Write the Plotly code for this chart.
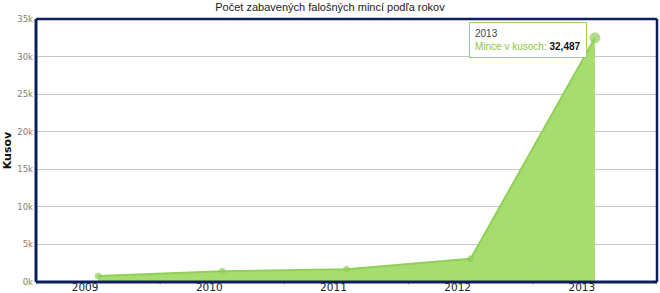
import plotly.graph_objects as go

years = ["2009", "2010", "2011", "2012", "2013"]
coins = [800, 1430, 1700, 3100, 32487]
series_name = "Mince v kusoch"
y_ticks = [0, 5000, 10000, 15000, 20000, 25000, 30000, 35000]
y_tick_text = ["0k", "5k", "10k", "15k", "20k", "25k", "30k", "35k"]

xpos = list(range(len(years)))
label_shift = 0.105
navy = "#0c1f5c"

fig = go.Figure()
fig.add_trace(go.Scatter(
    x=xpos, y=coins, mode="lines+markers", fill="tozeroy",
    fillcolor="#a7dc6f", line=dict(color="#90d058", width=2),
    marker=dict(color="#8fd055", size=[6, 6, 6, 6, 10]),
    name=series_name, showlegend=False, hoverinfo="skip",
))

fig.update_layout(
    width=660, height=293,
    margin=dict(l=36, r=3, t=19, b=11),
    paper_bgcolor="white", plot_bgcolor="white",
    title=dict(text="Počet zabavených falošných mincí podľa rokov",
               x=0.5, xanchor="center", y=1 - 7 / 293, yanchor="middle",
               font=dict(family="Liberation Sans, Arial", size=11, color="#222")),
    font=dict(family="Liberation Sans, Arial"),
    xaxis=dict(range=[-0.5, len(years) - 0.5], tickmode="array",
               tickvals=[i - label_shift for i in xpos], ticktext=years,
               ticks="", showgrid=False, zeroline=False, automargin=False,
               ticklabelstandoff=-3,
               tickfont=dict(size=10.5, color="#222", family="DejaVu Sans")),
    yaxis=dict(range=[0, 35000], tickmode="array", tickvals=y_ticks, ticktext=y_tick_text,
               showgrid=True, gridcolor="#c8c8c8", gridwidth=1, zeroline=False,
               automargin=False, ticklabelstandoff=2,
               ticks="", tickfont=dict(size=8.5, color="#808080", family="DejaVu Sans"),
               title=dict(text="<b>Kusov</b>", standoff=3,
                          font=dict(size=11, color="#111", family="DejaVu Sans"))),
)

# category boundary tick marks
for b in [i - 0.5 for i in xpos] + [xpos[-1] + 0.5]:
    fig.add_shape(type="line", xref="x", yref="paper", x0=b, x1=b, y0=0, y1=-0.012,
                  line=dict(color="#c0c0c0", width=1))

# frame
fig.add_shape(type="line", xref="paper", yref="paper", x0=0, x1=0, y0=0, y1=1,
              line=dict(color=navy, width=3))
fig.add_shape(type="line", xref="paper", yref="paper", x0=0, x1=1, y0=0, y1=0,
              line=dict(color=navy, width=3))
fig.add_shape(type="line", xref="paper", yref="paper", x0=0, x1=1, y0=1, y1=1,
              line=dict(color=navy, width=2.5))
fig.add_shape(type="line", xref="paper", yref="paper", x0=1, x1=1, y0=0, y1=1,
              line=dict(color=navy, width=2.5))

# tooltip
last = len(years) - 1
fig.add_annotation(
    x=xpos[last], y=coins[last], xref="x", yref="y",
    text=(f"<span style='color:#444'>{years[last]}</span><br>"
          f"<span style='color:#8cc63f'>{series_name}:</span> <b>{coins[last]:,}</b>"),
    showarrow=False, xanchor="right", yanchor="top", xshift=-8, yshift=16,
    align="left", bgcolor="white", bordercolor="#9bd25e", borderwidth=1, borderpad=5,
    font=dict(size=10, color="#111", family="Liberation Sans, Arial"),
)

fig.write_html("out.html")
